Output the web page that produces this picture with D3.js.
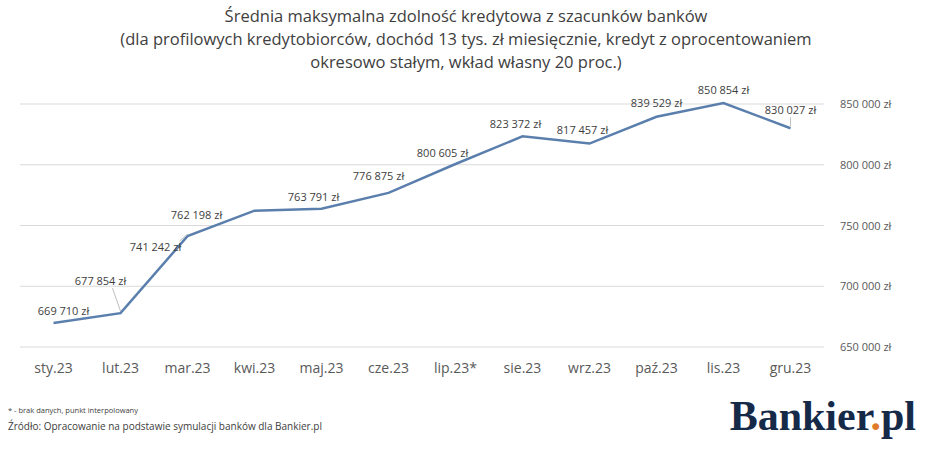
<!DOCTYPE html>
<html><head><meta charset="utf-8">
<script src="https://cdn.jsdelivr.net/npm/d3@7"></script>
<style>body{margin:0;background:#fff;font-family:"Open Sans",sans-serif}</style>
</head><body><svg id="c" width="933" height="451"></svg>
<script>
var months = ["sty.23","lut.23","mar.23","kwi.23","maj.23","cze.23","lip.23*","sie.23","wrz.23","paź.23","lis.23","gru.23"];
var values = [669710,677854,741242,762198,763791,776875,800605,823372,817457,839529,850854,830027];
var yTicks = [650000,700000,750000,800000,850000];
// label offsets relative to point (dx, dy), leader line flag
var labelDx = [10,-20,-32,-58,-8,-10,-13,-7,-7,0,0,0];
var labelDy = [-8,-28,15,8,-8,-13,-7,-8,-10,-10,-9,-14];
var leader = [false,true,true,false,false,false,false,false,false,false,false,true];

var svg = d3.select("#c");
var fmt = function(v){ return d3.format(",")(v).replace(/,/g," "); };

var x = d3.scaleBand().domain(months).range([20,824]);
var y = d3.scaleLinear().domain([650000,850000]).range([347,104]);

var title = ["Średnia maksymalna zdolność kredytowa z szacunków banków",
  "(dla profilowych kredytobiorców, dochód 13 tys. zł miesięcznie, kredyt z oprocentowaniem",
  "okresowo stałym, wkład własny 20 proc.)"];
svg.selectAll(".t").data(title).enter().append("text")
  .attr("x",466).attr("y",function(d,i){return 22+i*23;})
  .attr("text-anchor","middle").attr("font-size",16.5).attr("fill","#404040").text(function(d){return d;});

svg.selectAll(".g").data(yTicks).enter().append("line")
  .attr("x1",20).attr("x2",824).attr("y1",y).attr("y2",y)
  .attr("stroke","#d9d9d9").attr("stroke-width",1);
svg.selectAll(".yl").data(yTicks).enter().append("text")
  .attr("x",840).attr("y",function(d){return y(d)+4;}).attr("font-size",11).attr("fill","#595959")
  .text(function(d){return fmt(d)+" zł";});
svg.selectAll(".xl").data(months).enter().append("text")
  .attr("x",function(d){return x(d)+x.bandwidth()/2;}).attr("y",373).attr("text-anchor","middle")
  .attr("font-size",14).attr("fill","#595959").text(function(d){return d;});

var cx = function(i){return x(months[i])+x.bandwidth()/2;};
svg.append("path").datum(values)
  .attr("d", d3.line().x(function(d,i){return cx(i);}).y(function(d){return y(d);}))
  .attr("fill","none").attr("stroke","#5b7fad").attr("stroke-width",2.5);

values.forEach(function(v,i){
  var lx = cx(i)+labelDx[i], ly = y(v)+labelDy[i];
  if(leader[i]){
    var ex = i==11 ? lx : (i==2 ? lx+24 : lx+12), ey = i==2 ? ly-10 : ly+3;
    svg.append("line").attr("x1",cx(i)).attr("y1",y(v)-2).attr("x2",ex).attr("y2",ey)
      .attr("stroke","#bfbfbf").attr("stroke-width",1);
  }
  svg.append("text").attr("x",lx).attr("y",ly).attr("text-anchor","middle")
    .attr("font-size",11).attr("fill","#404040").text(fmt(v)+" zł");
});

svg.append("text").attr("x",8).attr("y",413).attr("font-size",7.5).attr("fill","#404040").text("* - brak danych, punkt interpolowany");
svg.append("text").attr("x",8).attr("y",430).attr("font-size",10).attr("fill","#404040").text("Źródło: Opracowanie na podstawie symulacji banków dla Bankier.pl");

var logo = svg.append("text").attr("x",916).attr("y",430).attr("text-anchor","end")
  .attr("font-family","Liberation Serif, serif").attr("font-weight","bold").attr("font-size",42).attr("fill","#152a48");
logo.append("tspan").text("Bankier");
logo.append("tspan").attr("fill","#e07b2a").text(".");
logo.append("tspan").text("pl");
</script></body></html>
